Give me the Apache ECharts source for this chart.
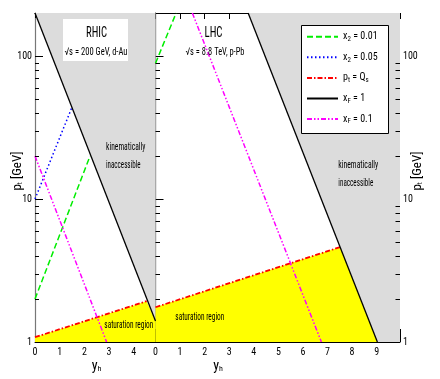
<!DOCTYPE html>
<html><head><meta charset="utf-8">
<script src="https://cdn.jsdelivr.net/npm/echarts@6/dist/echarts.min.js"></script>
<style>html,body{margin:0;padding:0;background:#fff}#c{width:440px;height:379px}</style>
</head><body><div id="c"></div>
<script>
// ---- RHIC panel (sqrt(s) = 200 GeV, d-Au) : [y_h, p_t] ----
const rhicX2_001 = [[0, 2.0], [2.23, 20]];
const rhicX2_005 = [[0, 10], [1.5, 44]];
const rhicQs     = [[0, 1.08], [4.52, 1.93]];
const rhicXF1    = [[0, 200], [4.88, 1.4]];
const rhicXF01   = [[0, 20], [2.9, 1]];
const rhicSatRegion = [[0, 1.08], [4.52, 1.93], [4.88, 1.4]];
const rhicKinRegion = [[0, 200], [4.88, 1.4]];
// ---- LHC panel (sqrt(s) = 8.8 TeV, p-Pb) ----
const lhcX2_001 = [[0, 89], [0.84, 200]];
const lhcQs     = [[0, 1.75], [7.51, 4.61]];
const lhcXF1    = [[3.77, 200], [9.03, 1]];
const lhcXF01   = [[1.5, 200], [6.75, 1]];
const lhcSatRegion = [[0, 1.75], [7.51, 4.61], [9.03, 1]];
const lhcKinRegion = [[3.77, 200], [9.03, 1], [9.95, 1]];
// ---- axes ----
const rhicXRange = [0, 4.88];
const lhcXRange = [0, 9.95];
const yRange = [1, 200];
const yMinorTicks = [2, 3, 4, 5, 6, 7, 8, 9, 20, 30, 40, 50, 60, 70, 80, 90];
const seriesNames = ['x2 = 0.01', 'x2 = 0.05', 'pt = Qs', 'xF = 1', 'xF = 0.1'];
const legendLabels = {
  'x2 = 0.01': 'x{s|2} = 0.01',
  'x2 = 0.05': 'x{s|2} = 0.05',
  'pt = Qs': 'p{s|t} = Q{s|s}',
  'xF = 1': 'x{s|F} = 1',
  'xF = 0.1': 'x{s|F} = 0.1'
};

const FF = "'Roboto Condensed','Liberation Sans',sans-serif";
const subRich = { s: { fontSize: 7, lineHeight: 7, verticalAlign: 'bottom', fontFamily: FF, color: '#000' } };
const styles = {
  'x2 = 0.01': { color: '#00ee00', width: 1.5, type: [6, 3] },
  'x2 = 0.05': { color: '#0000ff', width: 1.5, type: [1.5, 2.5] },
  'pt = Qs':   { color: '#ff0000', width: 1.8, type: [5, 2, 1.5, 2] },
  'xF = 1':    { color: '#000000', width: 1.3, type: 'solid' },
  'xF = 0.1':  { color: '#ff00ff', width: 1.5, type: [5, 2, 1.5, 2, 1.5, 2] }
};
function lineS(name, data, gi) {
  const st = styles[name];
  return { type: 'line', name, data, xAxisIndex: gi === 0 ? 0 : 2, yAxisIndex: gi === 0 ? 0 : 1,
    symbol: 'none', showSymbol: false, silent: true, z: 4, color: st.color,
    lineStyle: { color: st.color, width: st.width, type: st.type } };
}
function fillS(data, gi, color, origin) {
  return { type: 'line', data, xAxisIndex: gi === 0 ? 0 : 2, yAxisIndex: gi === 0 ? 0 : 1,
    symbol: 'none', silent: true, z: 1, lineStyle: { width: 0, opacity: 0 },
    areaStyle: { color, opacity: 1, origin } };
}
function minorTicks(xi, yi, sides, len) {
  return { type: 'custom', xAxisIndex: xi, yAxisIndex: yi, silent: true, z: 5,
    data: yMinorTicks.map(v => [0, v]), encode: { x: 0, y: 1 },
    renderItem: (params, api) => {
      const cs = params.coordSys;
      const y = Math.round(api.coord([api.value(0), api.value(1)])[1]) + 0.5;
      return { type: 'group', children: sides.map(s => ({ type: 'line',
        shape: { x1: s === 'l' ? cs.x : cs.x + cs.width, y1: y, x2: s === 'l' ? cs.x + len : cs.x + cs.width - len, y2: y },
        style: { stroke: '#000', lineWidth: 1 } })) };
    } };
}
const isDecade = v => { const l = Math.log10(v); return Math.abs(l - Math.round(l)) < 1e-6; };
const xLab = { fontSize: 10, color: '#000', fontFamily: FF, margin: 5, formatter: v => (Math.abs(v - Math.round(v)) < 1e-9 ? String(Math.round(v)) : '') };
const blackLine = { show: true, lineStyle: { color: '#000', width: 1 } };
const vLine = { show: true, lineStyle: { color: '#777', width: 1.2 } };

// condensed text labels: [text, fontSize, x, y, align, targetWidth]
const mctx = document.createElement('canvas').getContext('2d');
function label(text, size, x, y, align, w) {
  const font = size + "px " + FF;
  mctx.font = font;
  const sx = w / mctx.measureText(text).width;
  return { type: 'text', z: 10, x, y, scaleX: sx, scaleY: 1,
    style: { text, font, fill: '#000', align, verticalAlign: 'middle' } };
}
const labels = [
  ['RHIC', 14, 96.5, 33, 'center', 21],
  ['√s = 200 GeV, d-Au', 10.5, 96, 52, 'center', 63],
  ['LHC', 14, 213.5, 33, 'center', 18],
  ['√s = 8.8 TeV, p-Pb', 10.5, 215, 52.5, 'center', 59],
  ['kinematically', 11, 106, 147, 'left', 39.5],
  ['inaccessible', 11, 106, 165, 'left', 34.5],
  ['kinematically', 11, 338.3, 165, 'left', 40],
  ['inaccessible', 11, 338.3, 183.5, 'left', 35],
  ['saturation region', 10.5, 104.3, 325.5, 'left', 49],
  ['saturation region', 10.5, 175.3, 317.5, 'left', 49]
];
const yNameStyle = { fontSize: 13, color: '#000', fontFamily: FF, rich: subRich, padding: [0, 0, 0, 13] };

const chart = echarts.init(document.getElementById('c'), null, { renderer: 'canvas' });
chart.setOption({
  animation: false,
  backgroundColor: '#fff',
  grid: [
    { left: 35, top: 13, width: 120.5, height: 329 },
    { left: 155.5, top: 13, width: 244.5, height: 329 }
  ],
  xAxis: [
    { type: 'value', gridIndex: 0, position: 'bottom', min: rhicXRange[0], max: rhicXRange[1], interval: 0.5,
      axisLine: blackLine, axisTick: { inside: true, length: 5, lineStyle: { color: '#000' } }, axisLabel: xLab, splitLine: { show: false } },
    { type: 'value', gridIndex: 0, position: 'top', min: rhicXRange[0], max: rhicXRange[1], interval: 0.5,
      axisLine: blackLine, axisTick: { inside: true, length: 5, lineStyle: { color: '#000' } }, axisLabel: { show: false }, splitLine: { show: false } },
    { type: 'value', gridIndex: 1, position: 'bottom', min: lhcXRange[0], max: lhcXRange[1], interval: 1,
      axisLine: blackLine, axisTick: { inside: true, length: 7, lineStyle: { color: '#000' } }, axisLabel: xLab, splitLine: { show: false } },
    { type: 'value', gridIndex: 1, position: 'bottom', min: lhcXRange[0], max: lhcXRange[1], interval: 2,
      axisLine: { show: false }, axisTick: { inside: true, length: 13, lineStyle: { color: '#000' } }, axisLabel: { show: false }, splitLine: { show: false } },
    { type: 'value', gridIndex: 1, position: 'top', min: lhcXRange[0], max: lhcXRange[1], interval: 1,
      axisLine: blackLine, axisTick: { inside: true, length: 6, lineStyle: { color: '#000' } }, axisLabel: { show: false }, splitLine: { show: false } }
  ],
  yAxis: [
    { type: 'log', gridIndex: 0, position: 'left', min: yRange[0], max: yRange[1], logBase: 10,
      axisLine: vLine, axisTick: { inside: true, length: 8, lineStyle: { color: '#000' } },
      axisLabel: { fontSize: 10, color: '#000', fontFamily: FF, margin: 3, formatter: v => isDecade(v) ? String(Math.round(v)) : '' },
      splitLine: { show: false },
      name: 'p{s|t} [GeV]', nameLocation: 'middle', nameRotate: 90, nameGap: 11, nameMoveOverlap: false,
      nameTextStyle: yNameStyle },
    { type: 'log', gridIndex: 1, position: 'left', min: yRange[0], max: yRange[1], logBase: 10,
      axisLine: vLine, axisTick: { inside: true, length: 8, lineStyle: { color: '#000' } },
      axisLabel: { show: false }, splitLine: { show: false } },
    { type: 'log', gridIndex: 1, position: 'right', min: yRange[0], max: yRange[1], logBase: 10,
      axisLine: vLine, axisTick: { inside: true, length: 9, lineStyle: { color: '#000' } },
      axisLabel: { fontSize: 10, color: '#000', fontFamily: FF, margin: 3, formatter: v => isDecade(v) ? String(Math.round(v)) : '' },
      splitLine: { show: false },
      name: 'p{s|t} [GeV]', nameLocation: 'middle', nameRotate: 90, nameGap: 11, nameMoveOverlap: false,
      nameTextStyle: yNameStyle }
  ],
  legend: {
    orient: 'vertical', left: 306, top: 30.7, padding: 0, itemWidth: 31, itemHeight: 12, itemGap: 8.6,
    selectedMode: false, z: 6, data: seriesNames,
    itemStyle: { opacity: 0 },
    formatter: n => legendLabels[n],
    textStyle: { fontSize: 10, lineHeight: 12, color: '#000', fontFamily: FF, rich: subRich }
  },
  graphic: [
    { type: 'rect', z: 3, shape: { x: 63, y: 19, width: 65, height: 42 }, style: { fill: '#fff' } },
    { type: 'rect', z: 3, shape: { x: 301.5, y: 25.5, width: 87, height: 108 }, style: { fill: '#fff', stroke: '#000', lineWidth: 1 } },
    ...labels.map(l => label(...l)),
    { type: 'text', z: 10, x: 96.5, y: 366, style: { text: 'y{s|h}', font: "14px " + FF, fill: '#000', align: 'center', verticalAlign: 'middle', rich: { s: { fontSize: 8, lineHeight: 8, verticalAlign: 'bottom', fontFamily: FF, fill: '#000' } } } },
    { type: 'text', z: 10, x: 218, y: 366, style: { text: 'y{s|h}', font: "14px " + FF, fill: '#000', align: 'center', verticalAlign: 'middle', rich: { s: { fontSize: 8, lineHeight: 8, verticalAlign: 'bottom', fontFamily: FF, fill: '#000' } } } }
  ],
  series: [
    fillS(rhicKinRegion, 0, '#dcdcdc', 'end'),
    fillS(rhicSatRegion, 0, '#ffff00', 'start'),
    fillS(lhcKinRegion, 1, '#dcdcdc', 'end'),
    fillS(lhcSatRegion, 1, '#ffff00', 'start'),
    lineS('x2 = 0.01', rhicX2_001, 0),
    lineS('x2 = 0.05', rhicX2_005, 0),
    lineS('pt = Qs', rhicQs, 0),
    lineS('xF = 1', rhicXF1, 0),
    lineS('xF = 0.1', rhicXF01, 0),
    lineS('x2 = 0.01', lhcX2_001, 1),
    lineS('pt = Qs', lhcQs, 1),
    lineS('xF = 1', lhcXF1, 1),
    lineS('xF = 0.1', lhcXF01, 1),
    minorTicks(0, 0, ['l'], 4),
    minorTicks(2, 1, ['l', 'r'], 4.5)
  ]
});
</script></body></html>
